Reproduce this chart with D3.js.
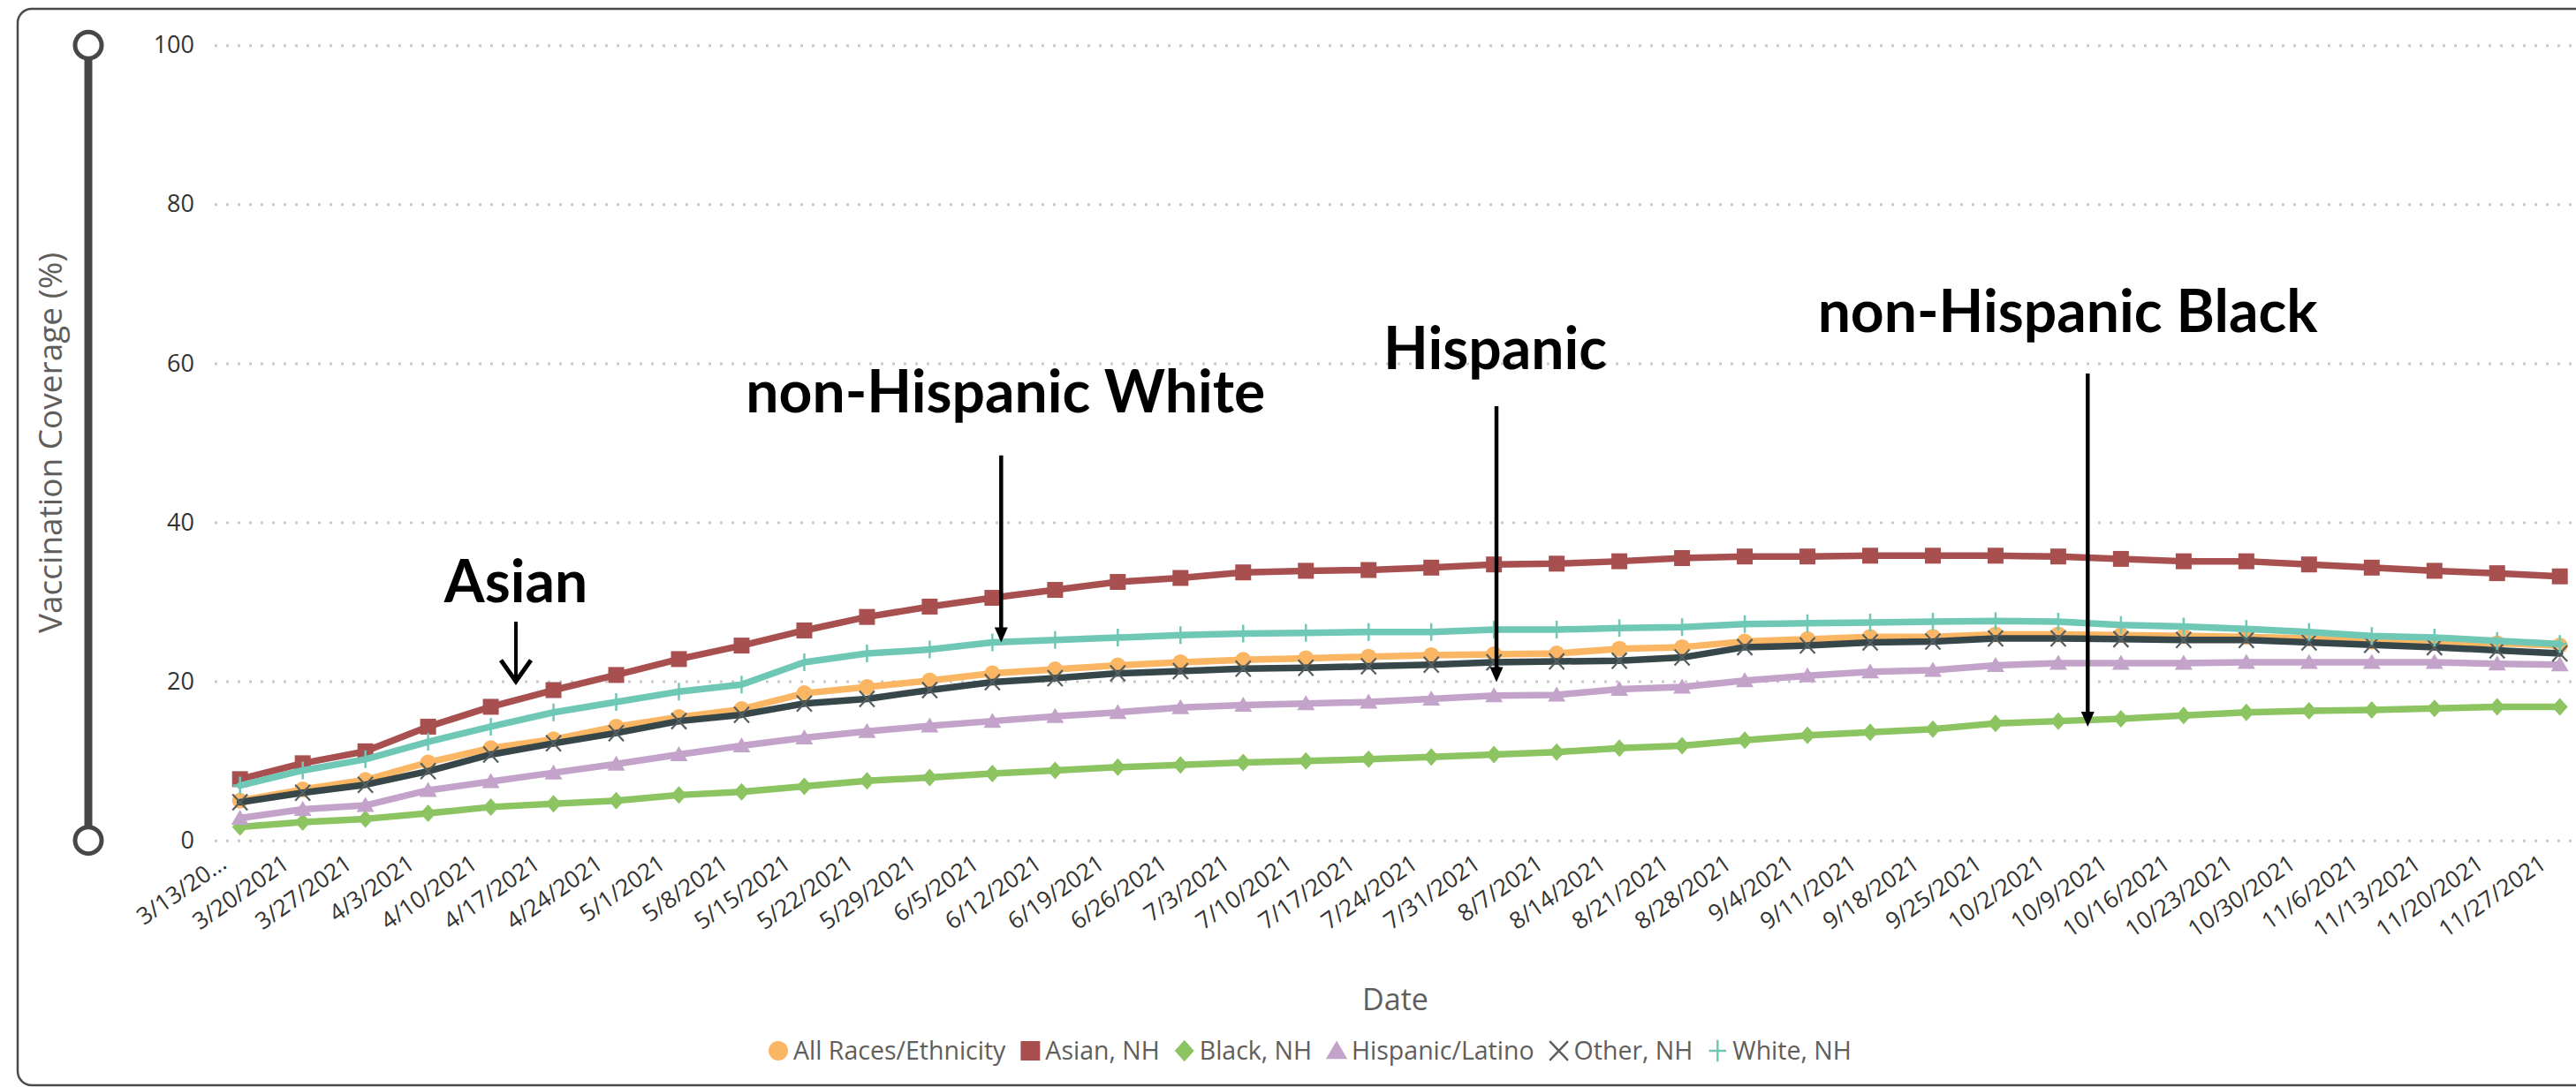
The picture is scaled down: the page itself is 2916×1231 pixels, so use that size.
<!DOCTYPE html>
<html>
<head>
<meta charset="utf-8">
<script src="https://cdn.jsdelivr.net/npm/d3@7"></script>
<style>
  html, body { margin: 0; padding: 0; background: #ffffff; }
  svg { display: block; }
</style>
</head>
<body>
<svg id="chart" width="2916" height="1231"></svg>
<script>
// Weekly reporting dates (Saturdays, 2021)
const dates = [
  "3/13/2021","3/20/2021","3/27/2021","4/3/2021","4/10/2021","4/17/2021","4/24/2021",
  "5/1/2021","5/8/2021","5/15/2021","5/22/2021","5/29/2021","6/5/2021","6/12/2021",
  "6/19/2021","6/26/2021","7/3/2021","7/10/2021","7/17/2021","7/24/2021","7/31/2021",
  "8/7/2021","8/14/2021","8/21/2021","8/28/2021","9/4/2021","9/11/2021","9/18/2021",
  "9/25/2021","10/2/2021","10/9/2021","10/16/2021","10/23/2021","10/30/2021","11/6/2021",
  "11/13/2021","11/20/2021","11/27/2021"
];

// Category labels as shown on the axis (first one is clipped by the axis)
const tickLabels = dates.map((d, i) => i === 0 ? "3/13/20..." : d);

// Vaccination coverage (%) by race/ethnicity
const allRaces = [5.0,6.4,7.6,9.8,11.6,12.7,14.3,15.5,16.5,18.5,19.3,20.1,21.0,21.5,22.0,22.4,22.7,22.9,23.1,23.3,23.4,23.5,24.1,24.3,25.0,25.3,25.6,25.6,25.9,25.9,25.8,25.7,25.6,25.4,25.0,24.9,24.8,24.5];
const asianNH = [7.7,9.7,11.2,14.3,16.8,18.9,20.8,22.8,24.5,26.4,28.1,29.4,30.5,31.5,32.5,33.0,33.7,33.9,34.0,34.3,34.7,34.8,35.1,35.5,35.7,35.7,35.8,35.8,35.8,35.7,35.4,35.1,35.1,34.7,34.3,33.9,33.6,33.2];
const blackNH = [1.7,2.3,2.7,3.4,4.2,4.6,5.0,5.7,6.1,6.8,7.5,7.9,8.4,8.8,9.2,9.5,9.8,10.0,10.2,10.5,10.8,11.1,11.6,11.9,12.6,13.2,13.6,14.0,14.7,15.0,15.3,15.7,16.1,16.3,16.4,16.6,16.8,16.8];
const hispanicLatino = [2.8,3.9,4.4,6.3,7.4,8.5,9.6,10.8,11.9,12.9,13.7,14.4,15.0,15.6,16.1,16.7,17.0,17.2,17.4,17.8,18.2,18.3,19.0,19.3,20.1,20.7,21.2,21.4,22.0,22.3,22.3,22.3,22.4,22.4,22.4,22.4,22.2,22.1];
const otherNH = [4.8,6.0,7.0,8.7,10.8,12.2,13.5,15.0,15.8,17.2,17.8,18.9,19.9,20.4,21.0,21.3,21.6,21.7,21.9,22.1,22.4,22.5,22.6,23.0,24.3,24.5,24.9,25.0,25.4,25.4,25.3,25.2,25.2,24.9,24.6,24.3,23.9,23.5];
const whiteNH = [6.9,8.8,10.2,12.4,14.3,16.1,17.4,18.7,19.6,22.4,23.5,24.0,24.9,25.2,25.5,25.8,26.0,26.1,26.2,26.2,26.5,26.5,26.7,26.8,27.2,27.3,27.4,27.5,27.6,27.5,27.1,26.9,26.6,26.2,25.7,25.5,25.1,24.7];

const seriesNames = ["All Races/Ethnicity","Asian, NH","Black, NH","Hispanic/Latino","Other, NH","White, NH"];
const seriesValues = [allRaces, asianNH, blackNH, hispanicLatino, otherNH, whiteNH];

const yTicks = [0, 20, 40, 60, 80, 100];

// Call-out labels
const calloutLabels = ["Asian", "non-Hispanic White", "Hispanic", "non-Hispanic Black"];

// ---------------------------------------------------------------------------
const svg = d3.select("#chart");
const W = 2916, H = 1231;

const seriesStyle = [
  { color: "#FBB663", marker: "circle" },
  { color: "#A84F50", marker: "square" },
  { color: "#8DC462", marker: "diamond" },
  { color: "#C4A3CB", marker: "triangle" },
  { color: "#374649", marker: "cross" },
  { color: "#6FC8B6", marker: "plus" }
];

const uiFont = "'Segoe UI', 'Open Sans', 'Noto Sans', sans-serif";

// Visual frame
svg.append("rect")
  .attr("x", 20).attr("y", 10)
  .attr("width", 2940).attr("height", 1219)
  .attr("rx", 16)
  .attr("fill", "#ffffff")
  .attr("stroke", "#4a4a4a")
  .attr("stroke-width", 2.5);

// Scales
const plotLeft = 243, plotRight = W;
const x = d3.scalePoint().domain(dates).range([271.7, 2897.7]);
const xAt = d3.scaleLinear().domain([0, dates.length - 1]).range(x.range());
const y = d3.scaleLinear().domain([0, 100]).range([951.7, 51.2]);

// Range slider on the left
const slider = svg.append("g");
slider.append("line")
  .attr("x1", 100).attr("x2", 100)
  .attr("y1", y(100)).attr("y2", y(0))
  .attr("stroke", "#474747").attr("stroke-width", 9);
[100, 0].forEach(v => {
  slider.append("circle")
    .attr("cx", 100).attr("cy", y(v)).attr("r", 15)
    .attr("fill", "#ffffff").attr("stroke", "#474747").attr("stroke-width", 5);
});

// Y axis with dotted gridlines
const yAxis = svg.append("g")
  .attr("transform", `translate(${plotLeft},0)`)
  .call(d3.axisLeft(y).tickValues(yTicks).tickSize(-(plotRight - plotLeft)).tickPadding(23));
yAxis.select(".domain").remove();
yAxis.selectAll(".tick line")
  .attr("stroke", "#c9c9c9")
  .attr("stroke-width", 3)
  .attr("stroke-dasharray", "3,10");
yAxis.selectAll(".tick text")
  .attr("font-family", uiFont)
  .attr("font-size", 27)
  .attr("fill", "#333333");

// X axis with rotated date labels
const xAxis = svg.append("g")
  .attr("transform", `translate(0,${y(0)})`)
  .call(d3.axisBottom(x).tickSize(0).tickFormat((d, i) => tickLabels[i]));
xAxis.select(".domain").remove();
xAxis.selectAll(".tick text")
  .attr("font-family", uiFont)
  .attr("font-size", 26.5)
  .attr("fill", "#333333")
  .attr("text-anchor", "end")
  .attr("x", 0).attr("y", 0).attr("dy", null)
  .attr("transform", "translate(-14,30) rotate(-35)");

// Axis titles
svg.append("text")
  .attr("transform", `translate(70,${(y(0) + y(100)) / 2}) rotate(-90)`)
  .attr("text-anchor", "middle")
  .attr("font-family", uiFont)
  .attr("font-size", 37)
  .attr("fill", "#605E5C")
  .text("Vaccination Coverage (%)");

svg.append("text")
  .attr("x", (plotLeft + plotRight) / 2)
  .attr("y", 1144)
  .attr("text-anchor", "middle")
  .attr("font-family", uiFont)
  .attr("font-size", 34)
  .attr("fill", "#605E5C")
  .text("Date");

// Marker shapes centred on (0,0)
function markerPath(type, k) {
  const p = d3.path();
  switch (type) {
    case "circle":   p.arc(0, 0, 9 * k, 0, 2 * Math.PI); p.closePath(); break;
    case "square":   p.rect(-9 * k, -9 * k, 18 * k, 18 * k); break;
    case "diamond":  p.moveTo(0, -10 * k); p.lineTo(9 * k, 0); p.lineTo(0, 10 * k); p.lineTo(-9 * k, 0); p.closePath(); break;
    case "triangle": p.moveTo(0, -9.5 * k); p.lineTo(10 * k, 7.5 * k); p.lineTo(-10 * k, 7.5 * k); p.closePath(); break;
    case "cross":    p.moveTo(-8.5 * k, -9 * k); p.lineTo(8.5 * k, 9 * k); p.moveTo(-8.5 * k, 9 * k); p.lineTo(8.5 * k, -9 * k); break;
    case "plus":     p.moveTo(0, -10 * k); p.lineTo(0, 10 * k); p.moveTo(-8 * k, 0); p.lineTo(8 * k, 0); break;
  }
  return p.toString();
}
const strokedMarker = t => t === "cross" || t === "plus";
const markerStroke = (t, c) => t === "cross" ? "#555f61" : c;

// Lines and markers
const line = d3.line()
  .x((d, i) => x(dates[i]))
  .y(d => y(d));

const plot = svg.append("g");
seriesValues.forEach((vals, s) => {
  const st = seriesStyle[s];
  const g = plot.append("g");
  g.append("path")
    .datum(vals)
    .attr("d", line)
    .attr("fill", "none")
    .attr("stroke", st.color)
    .attr("stroke-width", 7.5)
    .attr("stroke-linejoin", "round")
    .attr("stroke-linecap", "round");
  g.selectAll("path.mk")
    .data(vals)
    .join("path")
    .attr("class", "mk")
    .attr("transform", (d, i) => `translate(${x(dates[i])},${y(d)})`)
    .attr("d", markerPath(st.marker, 1))
    .attr("fill", strokedMarker(st.marker) ? "none" : st.color)
    .attr("stroke", strokedMarker(st.marker) ? markerStroke(st.marker, st.color) : "none")
    .attr("stroke-width", st.marker === "cross" ? 2.2 : 2.5);
});

// Call-outs: label text with an arrow pointing down to a series
const callouts = [
  { at: 4.40,  textAt: 4.40,  textValue: 29.9, from: 27.5, to: 20.0, head: "open" },
  { at: 12.14, textAt: 12.21, textValue: 53.8, from: 48.4, to: 24.9, head: "solid" },
  { at: 20.04, textAt: 20.02, textValue: 59.3, from: 54.6, to: 19.9, head: "solid" },
  { at: 29.47, textAt: 29.15, textValue: 63.9, from: 58.7, to: 14.3, head: "solid" }
];
const notes = svg.append("g");
callouts.forEach((c, i) => {
  notes.append("text")
    .attr("x", xAt(c.textAt))
    .attr("y", y(c.textValue))
    .attr("text-anchor", "middle")
    .attr("font-family", "Lato, 'Open Sans', sans-serif")
    .attr("font-weight", 700)
    .attr("font-size", 66)
    .attr("fill", "#000000")
    .text(calloutLabels[i]);

  const ax = xAt(c.at), y0 = y(c.from), y1 = y(c.to);
  if (c.head === "open") {
    notes.append("line")
      .attr("x1", ax).attr("x2", ax).attr("y1", y0).attr("y2", y1 - 3)
      .attr("stroke", "#000").attr("stroke-width", 4);
    notes.append("path")
      .attr("d", `M${ax - 17},${y1 - 24}L${ax},${y1}L${ax + 17},${y1 - 24}`)
      .attr("fill", "none").attr("stroke", "#000").attr("stroke-width", 5)
      .attr("stroke-linejoin", "miter");
  } else {
    notes.append("line")
      .attr("x1", ax).attr("x2", ax).attr("y1", y0).attr("y2", y1 - 12)
      .attr("stroke", "#000").attr("stroke-width", 4.5);
    notes.append("path")
      .attr("d", `M${ax - 7.5},${y1 - 17}L${ax + 7.5},${y1 - 17}L${ax},${y1}Z`)
      .attr("fill", "#000");
  }
});

// Legend
const legend = svg.append("g").attr("transform", "translate(870,1190)");
let cursor = 0;
seriesNames.forEach((name, s) => {
  const st = seriesStyle[s];
  const item = legend.append("g").attr("transform", `translate(${cursor},0)`);
  const isStroke = strokedMarker(st.marker);
  item.append("path")
    .attr("transform", "translate(11,0)")
    .attr("d", markerPath(st.marker, 1.22))
    .attr("fill", isStroke ? "none" : st.color)
    .attr("stroke", isStroke ? (st.marker === "cross" ? "#605E5C" : st.color) : "none")
    .attr("stroke-width", 2.5);
  const t = item.append("text")
    .attr("x", 28)
    .attr("dy", "0.35em")
    .attr("font-family", uiFont)
    .attr("font-size", 28.5)
    .attr("fill", "#605E5C")
    .text(name);
  cursor += 28 + t.node().getComputedTextLength() + 17;
});
</script>
</body>
</html>
